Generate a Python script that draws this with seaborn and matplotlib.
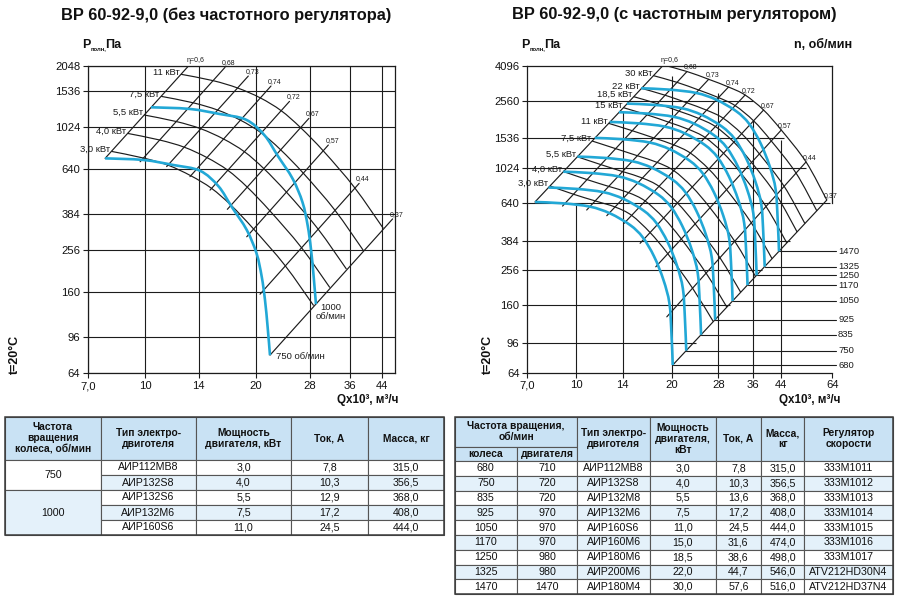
import numpy as np
import pandas as pd
import matplotlib
matplotlib.use("Agg")
import matplotlib.pyplot as plt
import matplotlib.transforms as mtransforms
from matplotlib.path import Path
from matplotlib.patches import PathPatch, Rectangle
from matplotlib.ticker import NullLocator
import seaborn as sns

# ============================ DATA ============================
L_title = "ВР 60-92-9,0 (без частотного регулятора)"
R_title = "ВР 60-92-9,0 (с частотным регулятором)"

# ---- left chart ----
L_xticks = [7, 10, 14, 20, 28, 36, 44]
L_xtick_labels = ["7,0", "10", "14", "20", "28", "36", "44"]
L_yticks = [64, 96, 160, 256, 384, 640, 1024, 1536, 2048]
L_xmax = 47.8
L_base_rpm = 750
L_rpm = [750, 1000]
L_rpm_labels = ["750 об/мин", "1000\nоб/мин"]
L_base_q = [7.79, 9.90, 11.94, 14.11, 15.83, 17.2, 18.9, 20.1, 20.76, 21.19, 21.54, 21.86]
L_base_p = [721, 708, 669, 627, 527, 418, 322, 247, 190, 146, 108, 78.5]
L_eta = ["η=0,6", "0,68", "0,73", "0,74", "0,72", "0,67", "0,57", "0,44", "0,37"]
L_eta_lo_q = [7.79, 9.70, 11.45, 13.25, 15.02, 16.74, 18.9, 20.54, 21.86]
L_eta_lo_p = [721, 694, 657, 587, 504, 406, 298, 156, 78.5]
L_eta_hi_q = [13.2, 16.5, 19.09, 22.0, 24.7, 27.9, 31.5, 38.2, 47.1]
L_eta_hi_p = [2064, 2011, 1823, 1629, 1370, 1132, 838, 544, 364.5]
L_top_arc_q = [12.53, 15.3, 17.85, 20.59, 23.44, 26.48, 30.6, 37.1, 44.4]
L_top_arc_p = [1859, 1731, 1593, 1424, 1234, 1019, 780, 519, 328]
L_kw_labels = ["3,0 кВт", "4,0 кВт", "5,5 кВт", "7,5 кВт", "11 кВт"]
L_kw_start_p = [780, 955, 1175, 1450, 1859]

# ---- right chart ----
R_xticks = [7, 10, 14, 20, 28, 36, 44, 64]
R_xtick_labels = ["7,0", "10", "14", "20", "28", "36", "44", "64"]
R_yticks = [64, 96, 160, 256, 384, 640, 1024, 1536, 2560, 4096]
R_base_rpm = 680
R_base_q = [7.40, 9.09, 11.04, 12.76, 14.76, 16.18, 17.57, 18.8, 19.63, 19.92, 20.11]
R_base_p = [648, 636, 608, 555, 474, 401, 309, 225, 164, 109, 71]
R_eta = ["η=0,6", "0,68", "0,73", "0,74", "0,72", "0,67", "0,57", "0,44", "0,37"]
R_eta_lo_q = [7.40, 9.04, 10.77, 12.46, 14.13, 15.87, 17.78, 19.26, 20.11]
R_eta_lo_p = [648, 613, 581, 538, 485, 370, 269, 136.5, 71]
R_eta_hi_q = [18.8, 22.3, 26.1, 30.14, 34.0, 38.87, 44.2, 52.9, 61.5]
R_eta_hi_p = [4152, 3800, 3420, 3080, 2764, 2255, 1719, 1115, 665]
R_kw_labels = ["3,0 кВт", "4,0 кВт", "5,5 кВт", "7,5 кВт", "11 кВт",
               "15 кВт", "18,5 кВт", "22 кВт", "30 кВт"]
R_kw_start_p = [805, 979, 1196, 1481, 1882, 2328, 2702, 3025, 3593]
R_vgrid_x = [10, 14, 20, 28, 36, 44]
R_vgrid_top = [640, 2240, 3560, 2830, 1960, 1500]
R_hgrid_y = [96, 160, 256, 384, 640, 1024, 1536, 2560]
R_hgrid_end = [23.8, 30.5, 38.5, 47, 63, 53, 45, 36]

# ---- left table ----
LT_headers = ["Частота\nвращения\nколеса, об/мин", "Тип электро-\nдвиготеля",
              "Мощность\nдвигателя, кВт", "Ток, А", "Масса, кг"]
LT_speed_groups = ["750", "1000"]
LT_speed_spans = [2, 3]
LT_motor = ["АИР112МВ8", "АИР132S8", "АИР132S6", "АИР132М6", "АИР160S6"]
LT_power = ["3,0", "4,0", "5,5", "7,5", "11,0"]
LT_current = ["7,8", "10,3", "12,9", "17,2", "24,5"]
LT_mass = ["315,0", "356,5", "368,0", "408,0", "444,0"]

# ---- right table ----
RT_headers = ["Тип электро-\nдвиготеля", "Мощность\nдвигателя,\nкВт", "Ток, А",
              "Масса,\nкг", "Регулятор\nскорости"]
RT_wheel = [680, 750, 835, 925, 1050, 1170, 1250, 1325, 1470]
RT_motor_rpm = [710, 720, 720, 970, 970, 970, 980, 980, 1470]
RT_motor = ["АИР112МВ8", "АИР132S8", "АИР132М8", "АИР132М6", "АИР160S6",
            "АИР160М6", "АИР180М6", "АИР200М6", "АИР180М4"]
RT_power = ["3,0", "4,0", "5,5", "7,5", "11,0", "15,0", "18,5", "22,0", "30,0"]
RT_current = ["7,8", "10,3", "13,6", "17,2", "24,5", "31,6", "38,6", "44,7", "57,6"]
RT_mass = ["315,0", "356,5", "368,0", "408,0", "444,0", "474,0", "498,0", "546,0", "516,0"]
RT_reg = ["333М1011", "333М1012", "333М1013", "333М1014", "333М1015",
          "333М1016", "333М1017", "ATV212HD30N4", "ATV212HD37N4"]

# ============================ STYLE ============================
sns.set_theme(style="white")
plt.rcParams["font.family"] = ["Liberation Sans", "DejaVu Sans"]
INK = "#1c1c1c"
TXT = "#111111"
BLUE = "#22a8d6"
HEAD = "#c9e2f4"
ALT = "#e4f1fa"
TGRID = "#555555"

fig = plt.figure(figsize=(9, 6.03), dpi=100)
W, H = 900.0, 603.0


def ftext(px, py, s, **kw):
    fig.text(px / W, 1 - py / H, s, **kw)


def smooth_path(q, p):
    pts = np.column_stack([np.log10(np.asarray(q, float)), np.log10(np.asarray(p, float))])
    n = len(pts)
    verts = [pts[0]]
    codes = [Path.MOVETO]
    for i in range(n - 1):
        p0 = pts[max(i - 1, 0)]
        p1 = pts[i]
        p2 = pts[i + 1]
        p3 = pts[min(i + 2, n - 1)]
        verts.extend([p1 + (p2 - p0) / 6.0, p2 - (p3 - p1) / 6.0, p2])
        codes.extend([Path.CURVE4] * 3)
    return Path(10 ** np.array(verts), codes)


def draw_curve(ax, q, p, color, lw, z):
    ax.add_patch(PathPatch(smooth_path(q, p), facecolor="none", edgecolor=color,
                           lw=lw, zorder=z, capstyle="butt", joinstyle="round"))


def setup_axes(ax, xticks, xlabels, yticks, xmax, ymax):
    ax.set_xscale("log")
    ax.set_yscale("log")
    ax.set_xlim(7, xmax)
    ax.set_ylim(64, ymax)
    ax.set_xticks(xticks)
    ax.set_xticklabels(xlabels)
    ax.set_yticks(yticks)
    ax.set_yticklabels([str(v) for v in yticks])
    ax.xaxis.set_minor_locator(NullLocator())
    ax.yaxis.set_minor_locator(NullLocator())
    ax.tick_params(which="major", direction="out", length=3.6, width=0.8, color=INK,
                   labelsize=8.1, labelcolor=TXT, pad=2,
                   left=True, bottom=True, top=False, right=False)
    ax.set_facecolor("white")
    for sp in ax.spines.values():
        sp.set_color(INK)
        sp.set_linewidth(0.9)


def draw_mesh(ax, etas, lo_q, lo_p, hi_q, hi_p, top_q, top_p, start_p, kw_labels, envelope):
    lo_q, lo_p = np.asarray(lo_q, float), np.asarray(lo_p, float)
    hi_q, hi_p = np.asarray(hi_q, float), np.asarray(hi_p, float)
    top_q, top_p = np.asarray(top_q, float), np.asarray(top_p, float)
    slope = np.log(hi_p / lo_p) / np.log(hi_q / lo_q)
    df = pd.DataFrame({
        "eta": np.repeat(etas, 2),
        "Q": np.column_stack([lo_q, hi_q]).ravel(),
        "P": np.column_stack([lo_p, hi_p]).ravel(),
    })
    sns.lineplot(data=df, x="Q", y="P", units="eta", estimator=None, sort=False,
                 color=INK, linewidth=0.85, legend=False, ax=ax, zorder=2)
    for lab, ps in zip(kw_labels, start_p):
        s = (ps / top_p[0]) ** (1.0 / slope[0])
        q = top_q * s
        p = top_p * s ** slope
        draw_curve(ax, q, p, INK, 0.85, 2)
        ax.annotate(lab, xy=(q[0], p[0]), xytext=(-1.0, 1.6), textcoords="offset points",
                    ha="right", va="center", fontsize=6.8, color=INK, annotation_clip=False,
                    zorder=5)
    if envelope:
        draw_curve(ax, hi_q, hi_p, INK, 0.85, 2)
    for lab, q, p in zip(etas, hi_q, hi_p):
        ax.annotate(lab, xy=(q, p), xytext=(-2.2, 0.8), textcoords="offset points",
                    ha="left", va="bottom", fontsize=5, color=INK, annotation_clip=False,
                    zorder=5)
    ax.set_xlabel("")
    ax.set_ylabel("")


# ============================ LEFT CHART ============================
axL = fig.add_axes([88 / W, 1 - 373.3 / H, 307 / W, 307.6 / H])
setup_axes(axL, L_xticks, L_xtick_labels, L_yticks, L_xmax, 2048)
axL.grid(True, which="major", color=INK, linewidth=0.8)
axL.set_axisbelow(True)
draw_mesh(axL, L_eta, L_eta_lo_q, L_eta_lo_p, L_eta_hi_q, L_eta_hi_p,
          L_top_arc_q, L_top_arc_p, L_kw_start_p, L_kw_labels, envelope=False)
Lbq, Lbp = np.array(L_base_q), np.array(L_base_p)
for n, lab in zip(L_rpm, L_rpm_labels):
    k = n / L_base_rpm
    q, p = Lbq * k, Lbp * k ** 2
    draw_curve(axL, q, p, BLUE, 1.9, 3)
    if n == L_base_rpm:
        axL.annotate(lab, xy=(q[-1], p[-1]), xytext=(4.5, -1.2), textcoords="offset points",
                     ha="left", va="center", fontsize=6.8, color=INK, annotation_clip=False)
    else:
        axL.annotate(lab, xy=(q[-1], p[-1]), xytext=(11, 1.0), textcoords="offset points",
                     ha="center", va="top", fontsize=6.8, color=INK, linespacing=1.1,
                     annotation_clip=False)

# ============================ RIGHT CHART ============================
axR = fig.add_axes([527.3 / W, 1 - 372.7 / H, 305 / W, 306.7 / H])
setup_axes(axR, R_xticks, R_xtick_labels, R_yticks, 64, 4096)
axR.grid(False)
axR.spines["right"].set_bounds(640, 4096)
axR.hlines(R_hgrid_y, 7, R_hgrid_end, colors=INK, linewidth=0.8, zorder=1)
axR.vlines(R_vgrid_x, 64, R_vgrid_top, colors=INK, linewidth=0.8, zorder=1)
draw_mesh(axR, R_eta, R_eta_lo_q, R_eta_lo_p, R_eta_hi_q, R_eta_hi_p,
          R_eta_hi_q, R_eta_hi_p, R_kw_start_p, R_kw_labels, envelope=True)
Rbq, Rbp = np.array(R_base_q), np.array(R_base_p)
q_far = 10 ** (np.log10(7) + 1.012 * np.log10(64 / 7))
trans = mtransforms.blended_transform_factory(axR.transAxes, axR.transData)
for n in RT_wheel:
    k = n / R_base_rpm
    q, p = Rbq * k, Rbp * k ** 2
    draw_curve(axR, q, p, BLUE, 1.9, 3)
    axR.plot([q[-1], q_far], [p[-1], p[-1]], color=INK, lw=0.8, clip_on=False, zorder=1)
    axR.text(1.019, p[-1], str(n), transform=trans, ha="left", va="center",
             fontsize=6.8, color=INK)
axR.set_xlabel("")
axR.set_ylabel("")

# ============================ TEXTS ============================
ftext(226, 15, L_title, ha="center", va="center", fontsize=11.8, fontweight="bold", color=TXT)
ftext(674, 15, R_title, ha="center", va="center", fontsize=11.8, fontweight="bold", color=TXT)
for x0 in (82, 521):
    ftext(x0, 45, "P", ha="left", va="center", fontsize=9, fontweight="bold", color=TXT)
    ftext(x0 + 8.6, 49, "полн,", ha="left", va="center", fontsize=4.2, fontweight="bold",
          color=TXT)
    ftext(x0 + 23, 45, "Па", ha="left", va="center", fontsize=9, fontweight="bold", color=TXT)
ftext(852, 45, "n, об/мин", ha="right", va="center", fontsize=9, fontweight="bold", color=TXT)
for xt in (15, 488):
    ftext(xt, 354, "t=20°C", ha="center", va="center", rotation=90, fontsize=9,
          fontweight="bold", color=TXT)
for xr in (398, 840):
    ftext(xr, 399.5, "Qx10³, м³/ч", ha="right", va="center", fontsize=8.4,
          fontweight="bold", color=TXT)

# ============================ TABLES ============================
tab = fig.add_axes([0, 0, 1, 1])
tab.set_xlim(0, W)
tab.set_ylim(H, 0)
tab.axis("off")


def cell(x0, y0, x1, y1, text, fc, bold=False, fs=7.4):
    tab.add_patch(Rectangle((x0, y0), x1 - x0, y1 - y0, facecolor=fc, edgecolor=TGRID, lw=0.8))
    tab.text((x0 + x1) / 2, (y0 + y1) / 2, text, ha="center", va="center", fontsize=fs,
             fontweight="bold" if bold else "normal", linespacing=1.15, color=TXT)


# left table
Lc = [5, 101, 196, 291, 368, 444]
for j, h in enumerate(LT_headers):
    cell(Lc[j], 416.7, Lc[j + 1], 460, h, HEAD, bold=True, fs=7.4)
row_h = 15.0
r = 0
for gi, (g, span) in enumerate(zip(LT_speed_groups, LT_speed_spans)):
    cell(Lc[0], 460 + r * row_h, Lc[1], 460 + (r + span) * row_h, g,
         "white" if gi == 0 else ALT, fs=7.7)
    r += span
for i in range(len(LT_motor)):
    fc = "white" if i % 2 == 0 else ALT
    y0, y1 = 460 + i * row_h, 460 + (i + 1) * row_h
    for j, val in enumerate([LT_motor[i], LT_power[i], LT_current[i], LT_mass[i]]):
        cell(Lc[j + 1], y0, Lc[j + 2], y1, val, fc, fs=7.7)
tab.add_patch(Rectangle((Lc[0], 416.7), Lc[-1] - Lc[0], 460 + 5 * row_h - 416.7,
                        facecolor="none", edgecolor="#3c3c3c", lw=1.1))

# right table
Rc = [455, 516.7, 577.3, 650, 715.7, 761, 804.3, 893]
cell(Rc[0], 416.7, Rc[2], 446.7, "Частота вращения,\nоб/мин", HEAD, bold=True, fs=7.4)
cell(Rc[0], 446.7, Rc[1], 461, "колеса", HEAD, bold=True, fs=7.4)
cell(Rc[1], 446.7, Rc[2], 461, "двигателя", HEAD, bold=True, fs=7.4)
for j, h in enumerate(RT_headers):
    cell(Rc[j + 2], 416.7, Rc[j + 3], 461, h, HEAD, bold=True, fs=7.4)
rh = 14.8
for i in range(len(RT_wheel)):
    fc = "white" if i % 2 == 0 else ALT
    y0, y1 = 461 + i * rh, 461 + (i + 1) * rh
    vals = [str(RT_wheel[i]), str(RT_motor_rpm[i]), RT_motor[i], RT_power[i],
            RT_current[i], RT_mass[i], RT_reg[i]]
    for j, val in enumerate(vals):
        cell(Rc[j], y0, Rc[j + 1], y1, val, fc, fs=7.7)
tab.add_patch(Rectangle((Rc[0], 416.7), Rc[-1] - Rc[0], 461 + 9 * rh - 416.7,
                        facecolor="none", edgecolor="#3c3c3c", lw=1.1))

fig.savefig("out.png", dpi=100)
